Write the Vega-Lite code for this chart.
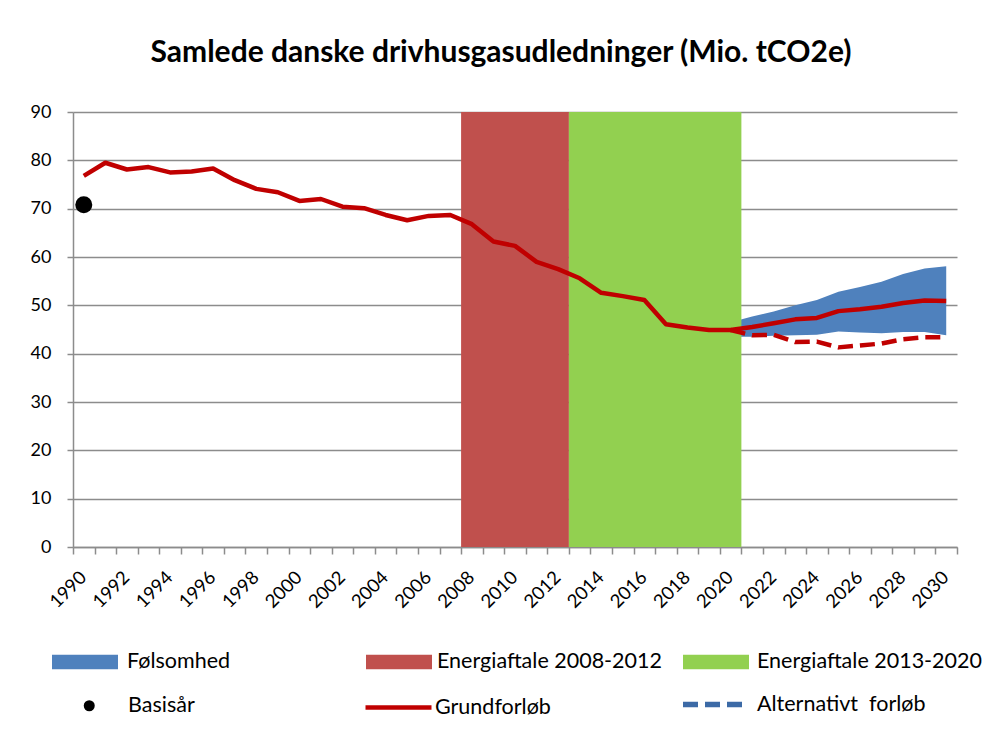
{
  "$schema": "https://vega.github.io/schema/vega-lite/v6.json",
  "width": 884,
  "height": 435,
  "autosize": {"type": "none"},
  "padding": {"left": 73, "top": 112, "right": 30, "bottom": 190},
  "background": "white",
  "config": {
    "view": {"stroke": null},
    "font": "Lato",
    "legend": {"padding": 0, "labelFont": "Lato", "labelFontSize": 21.5, "labelColor": "black", "labelLimit": 500, "title": null}
  },
  "title": {
    "text": "Samlede danske drivhusgasudledninger (Mio. tCO2e)",
    "font": "Lato", "fontSize": 30, "fontWeight": "bold", "color": "black",
    "anchor": "middle", "dx": -14, "offset": 35
  },
  "datasets": {
    "hist": [
      {"year": 1990, "value": 76.8, "series": "Grundforløb"},
      {"year": 1991, "value": 79.5, "series": "Grundforløb"},
      {"year": 1992, "value": 78.1, "series": "Grundforløb"},
      {"year": 1993, "value": 78.6, "series": "Grundforløb"},
      {"year": 1994, "value": 77.5, "series": "Grundforløb"},
      {"year": 1995, "value": 77.7, "series": "Grundforløb"},
      {"year": 1996, "value": 78.3, "series": "Grundforløb"},
      {"year": 1997, "value": 75.9, "series": "Grundforløb"},
      {"year": 1998, "value": 74.1, "series": "Grundforløb"},
      {"year": 1999, "value": 73.4, "series": "Grundforløb"},
      {"year": 2000, "value": 71.6, "series": "Grundforløb"},
      {"year": 2001, "value": 72.0, "series": "Grundforløb"},
      {"year": 2002, "value": 70.4, "series": "Grundforløb"},
      {"year": 2003, "value": 70.1, "series": "Grundforløb"},
      {"year": 2004, "value": 68.7, "series": "Grundforløb"},
      {"year": 2005, "value": 67.6, "series": "Grundforløb"},
      {"year": 2006, "value": 68.5, "series": "Grundforløb"},
      {"year": 2007, "value": 68.7, "series": "Grundforløb"},
      {"year": 2008, "value": 66.8, "series": "Grundforløb"},
      {"year": 2009, "value": 63.2, "series": "Grundforløb"},
      {"year": 2010, "value": 62.3, "series": "Grundforløb"},
      {"year": 2011, "value": 59.0, "series": "Grundforløb"},
      {"year": 2012, "value": 57.5, "series": "Grundforløb"},
      {"year": 2013, "value": 55.6, "series": "Grundforløb"},
      {"year": 2014, "value": 52.6, "series": "Grundforløb"},
      {"year": 2015, "value": 51.9, "series": "Grundforløb"},
      {"year": 2016, "value": 51.1, "series": "Grundforløb"},
      {"year": 2017, "value": 46.1, "series": "Grundforløb"},
      {"year": 2018, "value": 45.4, "series": "Grundforløb"},
      {"year": 2019, "value": 44.9, "series": "Grundforløb"},
      {"year": 2020, "value": 44.9, "series": "Grundforløb"},
      {"year": 2021, "value": 45.5, "series": "Grundforløb"},
      {"year": 2022, "value": 46.3, "series": "Grundforløb"},
      {"year": 2023, "value": 47.1, "series": "Grundforløb"},
      {"year": 2024, "value": 47.4, "series": "Grundforløb"},
      {"year": 2025, "value": 48.8, "series": "Grundforløb"},
      {"year": 2026, "value": 49.2, "series": "Grundforløb"},
      {"year": 2027, "value": 49.7, "series": "Grundforløb"},
      {"year": 2028, "value": 50.5, "series": "Grundforløb"},
      {"year": 2029, "value": 51.0, "series": "Grundforløb"},
      {"year": 2030, "value": 50.9, "series": "Grundforløb"}
    ],
    "alt": [
      {"year": 2020, "value": 44.9, "series": "Alternativt\u00a0 forløb"},
      {"year": 2021, "value": 43.8, "series": "Alternativt\u00a0 forløb"},
      {"year": 2022, "value": 43.9, "series": "Alternativt\u00a0 forløb"},
      {"year": 2023, "value": 42.4, "series": "Alternativt\u00a0 forløb"},
      {"year": 2024, "value": 42.5, "series": "Alternativt\u00a0 forløb"},
      {"year": 2025, "value": 41.3, "series": "Alternativt\u00a0 forløb"},
      {"year": 2026, "value": 41.7, "series": "Alternativt\u00a0 forløb"},
      {"year": 2027, "value": 42.1, "series": "Alternativt\u00a0 forløb"},
      {"year": 2028, "value": 43.0, "series": "Alternativt\u00a0 forløb"},
      {"year": 2029, "value": 43.4, "series": "Alternativt\u00a0 forløb"},
      {"year": 2030, "value": 43.4, "series": "Alternativt\u00a0 forløb"}
    ],
    "sens": [
      {"year": 2020, "lo": 43.5, "hi": 46.5, "series": "Følsomhed"},
      {"year": 2021, "lo": 43.5, "hi": 47.7, "series": "Følsomhed"},
      {"year": 2022, "lo": 43.7, "hi": 48.7, "series": "Følsomhed"},
      {"year": 2023, "lo": 43.8, "hi": 50.0, "series": "Følsomhed"},
      {"year": 2024, "lo": 43.9, "hi": 51.1, "series": "Følsomhed"},
      {"year": 2025, "lo": 44.6, "hi": 52.8, "series": "Følsomhed"},
      {"year": 2026, "lo": 44.4, "hi": 53.8, "series": "Følsomhed"},
      {"year": 2027, "lo": 44.2, "hi": 54.9, "series": "Følsomhed"},
      {"year": 2028, "lo": 44.5, "hi": 56.5, "series": "Følsomhed"},
      {"year": 2029, "lo": 44.5, "hi": 57.6, "series": "Følsomhed"},
      {"year": 2030, "lo": 43.8, "hi": 58.1, "series": "Følsomhed"}
    ],
    "agree1": [{"name": "Energiaftale 2008-2012", "start": 2007.5, "end": 2012.5, "top": 90, "bottom": 0}],
    "agree2": [{"name": "Energiaftale 2013-2020", "start": 2012.5, "end": 2020.5, "top": 90, "bottom": 0}],
    "base": [{"year": 1990, "value": 70.8, "name": "Basisår"}]
  },
  "layer": [
    {
      "data": {"name": "sens"},
      "mark": {"type": "area", "opacity": 1},
      "encoding": {
        "x": {
          "field": "year", "type": "quantitative", "title": null,
          "scale": {"domain": [1989.5, 2030.5], "nice": false, "zero": false},
          "axis": {
            "values": [1989.5,1990,1990.5,1991,1991.5,1992,1992.5,1993,1993.5,1994,1994.5,1995,1995.5,1996,1996.5,1997,1997.5,1998,1998.5,1999,1999.5,2000,2000.5,2001,2001.5,2002,2002.5,2003,2003.5,2004,2004.5,2005,2005.5,2006,2006.5,2007,2007.5,2008,2008.5,2009,2009.5,2010,2010.5,2011,2011.5,2012,2012.5,2013,2013.5,2014,2014.5,2015,2015.5,2016,2016.5,2017,2017.5,2018,2018.5,2019,2019.5,2020,2020.5,2021,2021.5,2022,2022.5,2023,2023.5,2024,2024.5,2025,2025.5,2026,2026.5,2027,2027.5,2028,2028.5,2029,2029.5,2030,2030.5],
            "tickCount": 200,
            "labelExpr": "datum.value % 2 == 0 ? toString(datum.value) : ''",
            "labelOverlap": false, "labelFlush": false, "labelBound": false,
            "labelAngle": -45, "labelAlign": "right", "labelBaseline": "middle",
            "labelFont": "Lato", "labelFontSize": 18.5, "labelColor": "black",
            "labelPadding": 20, "labelOffset": -1,
            "grid": false,
            "domainColor": "#8c8c8c", "domainWidth": 1.5,
            "tickColor": "#8c8c8c", "tickWidth": 1.5, "tickSize": 7,
            "tickOpacity": {"condition": {"test": "datum.value % 1 != 0", "value": 1}, "value": 0}
          }
        },
        "y": {
          "field": "hi", "type": "quantitative", "title": null,
          "scale": {"domain": [0, 90], "nice": false},
          "axis": {
            "values": [0, 10, 20, 30, 40, 50, 60, 70, 80, 90],
            "grid": true, "gridColor": "#8c8c8c", "gridWidth": 1.5,
            "domainColor": "#8c8c8c", "domainWidth": 1.5,
            "tickColor": "#8c8c8c", "tickWidth": 1.5, "tickSize": 6,
            "labelFont": "Lato", "labelFontSize": 18, "labelColor": "black", "labelPadding": 16
          }
        },
        "y2": {"field": "lo"},
        "fill": {
          "field": "series", "type": "nominal",
          "scale": {"range": ["#4F81BD"]},
          "legend": {"orient": "none", "legendX": -21, "legendY": 517, "symbolType": "M-1,-0.22H1V0.22H-1Z", "symbolSize": 4356, "symbolStrokeWidth": 0, "labelOffset": 9}
        }
      }
    },
    {
      "data": {"name": "agree1"},
      "mark": {"type": "rect"},
      "encoding": {
        "x": {"field": "start", "type": "quantitative", "title": null},
        "x2": {"field": "end"},
        "y": {"field": "top", "type": "quantitative", "title": null},
        "y2": {"field": "bottom"},
        "fill": {
          "field": "name", "type": "nominal",
          "scale": {"range": ["#C0504D"]},
          "legend": {"orient": "none", "legendX": 293, "legendY": 517, "symbolType": "M-1,-0.22H1V0.22H-1Z", "symbolSize": 4356, "symbolStrokeWidth": 0, "labelOffset": 5}
        }
      }
    },
    {
      "data": {"name": "agree2"},
      "mark": {"type": "rect"},
      "encoding": {
        "x": {"field": "start", "type": "quantitative", "title": null},
        "x2": {"field": "end"},
        "y": {"field": "top", "type": "quantitative", "title": null},
        "y2": {"field": "bottom"},
        "fill": {
          "field": "name", "type": "nominal",
          "scale": {"range": ["#92D050"]},
          "legend": {"orient": "none", "legendX": 610, "legendY": 517, "symbolType": "M-1,-0.22H1V0.22H-1Z", "symbolSize": 4356, "symbolStrokeWidth": 0, "labelOffset": 8}
        }
      }
    },
    {
      "data": {"name": "alt"},
      "mark": {"type": "line", "stroke": "#C00000", "strokeWidth": 4.5, "strokeJoin": "round"},
      "encoding": {
        "x": {"field": "year", "type": "quantitative", "title": null},
        "y": {"field": "value", "type": "quantitative", "title": null},
        "strokeDash": {
          "field": "series", "type": "nominal",
          "scale": {"range": [[15, 7]]},
          "legend": {
            "orient": "none", "legendX": 607, "legendY": 560, "symbolType": "stroke", "symbolSize": 3481,
            "symbolStrokeWidth": 5.5, "symbolStrokeColor": "#3C6AA6", "labelOffset": 12
          }
        }
      }
    },
    {
      "data": {"name": "hist"},
      "mark": {"type": "line", "strokeWidth": 4.5, "strokeJoin": "round"},
      "encoding": {
        "x": {"field": "year", "type": "quantitative", "title": null},
        "y": {"field": "value", "type": "quantitative", "title": null},
        "stroke": {
          "field": "series", "type": "nominal",
          "scale": {"range": ["#C00000"]},
          "legend": {"orient": "none", "legendX": 290, "legendY": 560, "symbolType": "stroke", "symbolSize": 4356, "symbolStrokeWidth": 4.5, "labelOffset": 1}
        }
      }
    },
    {
      "data": {"name": "base"},
      "mark": {"type": "point", "filled": true, "opacity": 1, "size": 289},
      "encoding": {
        "x": {"field": "year", "type": "quantitative", "title": null},
        "y": {"field": "value", "type": "quantitative", "title": null},
        "fill": {
          "field": "name", "type": "nominal",
          "scale": {"range": ["black"]},
          "legend": {"orient": "none", "legendX": 5.5, "legendY": 583, "symbolType": "circle", "symbolSize": 121, "symbolStrokeWidth": 0, "labelOffset": 28}
        }
      }
    }
  ],
  "resolve": {"scale": {"fill": "independent"}}
}
